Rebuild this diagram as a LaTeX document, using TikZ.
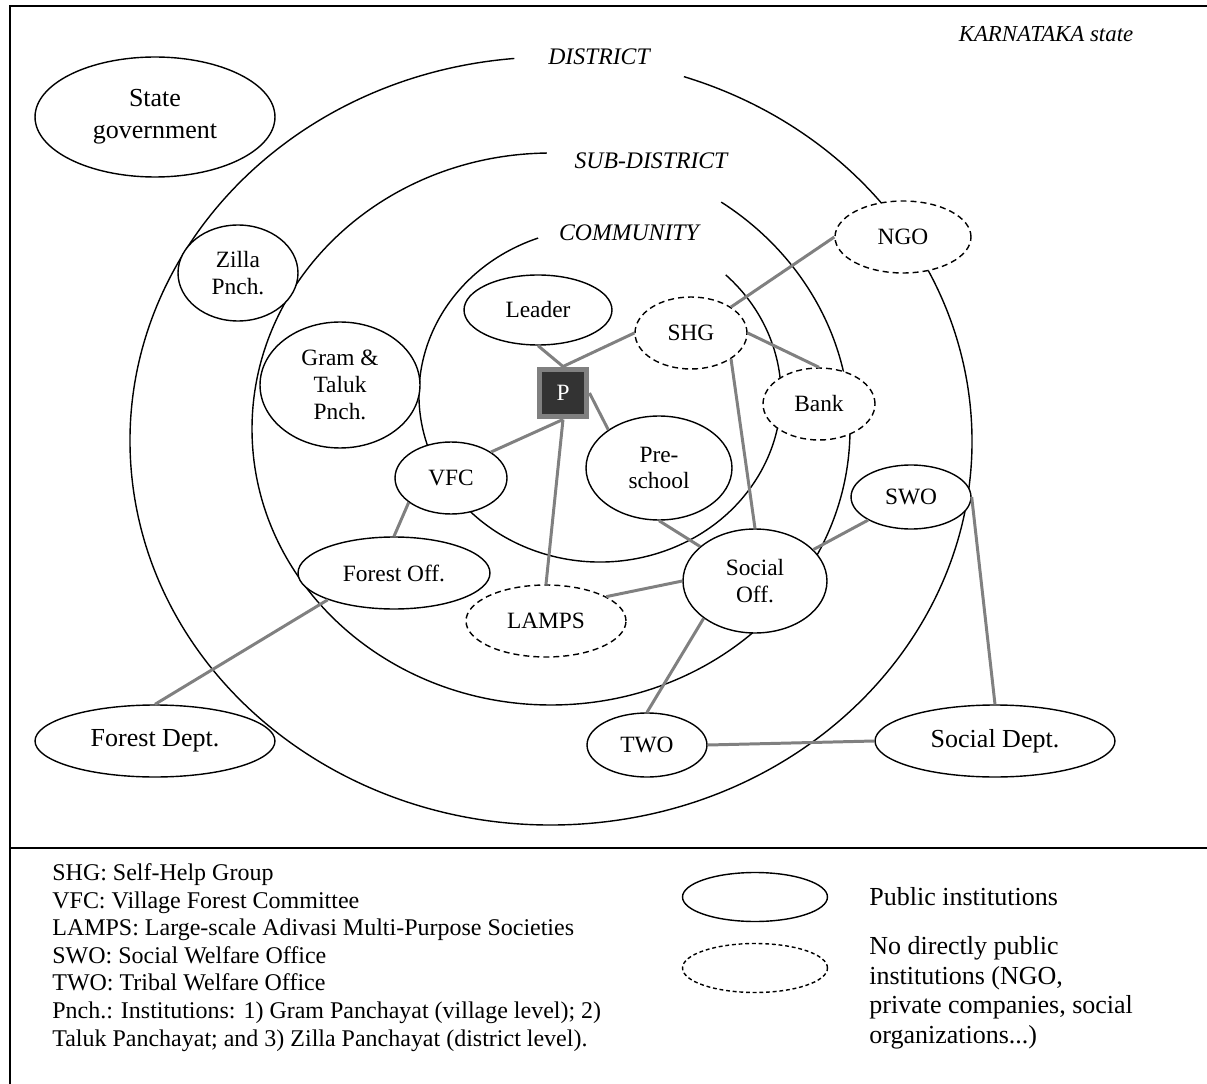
\documentclass[tikz,border=0pt]{standalone}
\usepackage{fontspec}
\setmainfont{Liberation Serif}
\usetikzlibrary{shapes.geometric}
\definecolor{linkgray}{RGB}{128,128,128}
\definecolor{pdark}{RGB}{51,51,51}
\newcommand{\nodefont}{\fontsize{13.3}{15.3}\selectfont}
\newcommand{\bigfont}{\fontsize{14.8}{18}\selectfont}
\newcommand{\levelfont}{\fontsize{13.5}{16}\selectfont\itshape}
\newcommand{\legendfont}{\fontsize{13.65}{15.6}\selectfont}

\begin{document}
\begin{tikzpicture}[x=0.02cm, y=0.02cm,
      ring/.style={line width=0.8pt},
      frame/.style={line width=1pt},
      inst/.style={ellipse,draw,fill=white,line width=0.8pt,inner sep=0pt,
        align=center,font=\nodefont},
      noninst/.style={inst,dash pattern=on 3.4pt off 2.3pt},
      link/.style={draw=linkgray,line width=1.7pt},
      pbox/.style={rectangle,draw=linkgray,line width=3.4pt,fill=pdark,
        minimum size=0.94cm,inner sep=0pt,text=white,font=\nodefont}]
      \tikzstyle{level}=[inner sep=0pt,font=\levelfont]
      \tikzstyle{legtext}=[inner sep=0pt,anchor=base west,font=\legendfont]
      \useasboundingbox (0,0) rectangle (1207,-1084);
      \draw[frame] (1207,-6) -- (10,-6) -- (10,-1084);
      \draw[frame] (10,-848) -- (1207,-848);
      % levels
      \coordinate (dist) at (551,-441);
      \coordinate (sub) at (551,-429);
      \coordinate (comm) at (600,-395);
      \draw[ring] (dist) ++(95:421 and 384)
        arc[start angle=95,end angle=431.6,x radius=421,y radius=384];
      \draw[ring] (sub) ++(90.8:299 and 276)
        arc[start angle=90.8,end angle=415.3,x radius=299,y radius=276];
      \draw[ring] (comm) ++(110:181 and 167)
        arc[start angle=110,end angle=406,x radius=181,y radius=167];
      \node[level,font=\fontsize{13}{15}\selectfont\itshape] (karnataka)
        at (1046,-34) {KARNATAKA state};
      \node[level] (ldist) at (599,-57) {DISTRICT};
      \node[level] (lsub) at (651,-161) {SUB-DISTRICT};
      \node[level] (lcomm) at (629,-233) {COMMUNITY};
      % institutions
      \node[inst,font=\bigfont,minimum width=4.8cm,minimum height=2.4cm]
        (state) at (155,-117) {State\\government};
      \node[inst,minimum width=2.4cm,minimum height=1.92cm]
        (zilla) at (238,-273) {Zilla\\Pnch.};
      \node[inst,minimum width=3.2cm,minimum height=2.52cm]
        (gram) at (340,-385) {Gram \&\\Taluk\\Pnch.};
      \node[inst,minimum width=2.96cm,minimum height=1.4cm]
        (leader) at (538,-310) {Leader};
      \node[pbox] (p) at (563,-393) {P};
      \node[noninst,minimum width=2.24cm,minimum height=1.44cm]
        (shg) at (691,-333) {SHG};
      \node[noninst,minimum width=2.24cm,minimum height=1.44cm]
        (bank) at (819,-404) {Bank};
      \node[noninst,minimum width=2.72cm,minimum height=1.44cm]
        (ngo) at (903,-237) {NGO};
      \node[inst,minimum width=2.92cm,minimum height=2.08cm]
        (pre) at (659,-468) {Pre-\\school};
      \node[inst,minimum width=2.24cm,minimum height=1.44cm]
        (vfc) at (451,-478) {VFC};
      \node[inst,minimum width=3.84cm,minimum height=1.44cm]
        (forestoff) at (394,-573) {Forest Off.};
      \node[noninst,minimum width=3.2cm,minimum height=1.44cm]
        (lamps) at (546,-621) {LAMPS};
      \node[inst,font=\bigfont,minimum width=4.8cm,minimum height=1.44cm]
        (forestdept) at (155,-741) {Forest Dept.};
      \node[inst,minimum width=2.88cm,minimum height=2.08cm]
        (socialoff) at (755,-581) {Social\\Off.};
      \node[inst,minimum width=2.4cm,minimum height=1.28cm]
        (swo) at (911,-497) {SWO};
      \node[inst,minimum width=2.4cm,minimum height=1.28cm]
        (two) at (647,-745) {TWO};
      \node[inst,font=\bigfont,minimum width=4.8cm,minimum height=1.44cm]
        (socialdept) at (995,-741) {Social Dept.};
      % links
      \draw[link] (leader.south) -- (p.north);
      \draw[link] (p.north) -- (shg.west);
      \draw[link] (p.east) -- (pre.143);
      \draw[link] (p.south) -- (vfc.33);
      \draw[link] (p.south) -- (lamps.north);
      \draw[link] (shg.33) -- (ngo.west);
      \draw[link] (shg.east) -- (bank.north);
      \draw[link] (shg.-33) -- (socialoff.north);
      \draw[link] (pre.south) -- (socialoff);
      \draw[link] (vfc.210) -- (forestoff.north);
      \draw[link] (forestoff.202) -- (forestdept.north);
      \draw[link] (lamps.22) -- (socialoff.west);
      \draw[link] (socialoff) -- (swo);
      \draw[link] (socialoff.216) -- (two.north);
      \draw[link] (two.east) -- (socialdept.west);
      \draw[link] (swo.east) -- (socialdept.north);
      % legend
      \foreach \t [count=\i] in {{SHG: Self-Help Group},{VFC: Village Forest Committee},
        {LAMPS: Large-scale Adivasi Multi-Purpose Societies},{SWO: Social Welfare Office},
        {TWO: Tribal Welfare Office},
        {Pnch.: Institutions: 1) Gram Panchayat (village level); 2)},
        {Taluk Panchayat; and 3) Zilla Panchayat (district level).}}
        \node[legtext] (abbr\i) at (52,{-880.5-27.6*(\i-1)}) {\t};
      \node[inst,minimum width=2.9cm,minimum height=0.98cm] (legpub) at (755,-897) {};
      \node[inst,dash pattern=on 2.2pt off 1.6pt,minimum width=2.9cm,
        minimum height=0.98cm] (legnon) at (755,-968) {};
      \node[legtext,font=\bigfont] (pubtext) at (869,-905.7) {Public institutions};
      \foreach \t [count=\i] in {{No directly public},{institutions (NGO,},
        {private companies, social}}
        \node[legtext,font=\bigfont] (nontext\i) at (869,{-954.5-29.7*(\i-1)}) {\t};
      \node[legtext,font=\bigfont] (nontext4) at (869,-1043.6) {organizations...)};
    \end{tikzpicture}
\end{document}
